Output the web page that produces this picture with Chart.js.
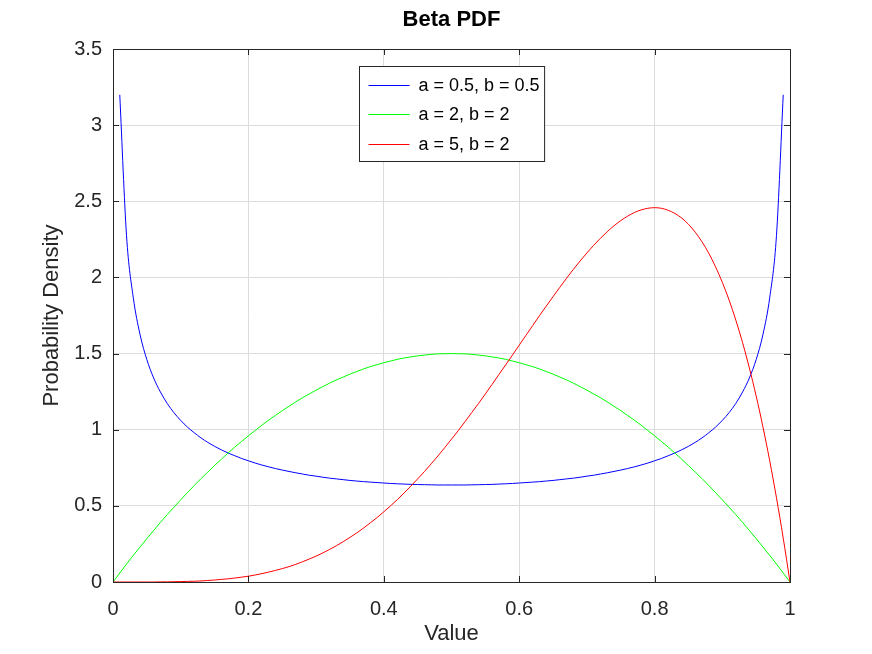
<!DOCTYPE html>
<html>
<head>
<meta charset="utf-8">
<title>Beta PDF</title>
<script src="https://cdn.jsdelivr.net/npm/chart.js@4.4.0/dist/chart.umd.min.js"></script>
<style>
	html, body { margin: 0; padding: 0; background: #fff; }
	#wrap { width: 872px; height: 654px; }
</style>
</head>
<body>
<div id="wrap"><canvas id="chart" width="872" height="654"></canvas></div>
<script>
( function( ) {
	'use strict';

	// x positions 0 .. 1, step 0.01
	var xValues = [
		0.00, 0.01, 0.02, 0.03, 0.04, 0.05, 0.06, 0.07, 0.08, 0.09,
		0.10, 0.11, 0.12, 0.13, 0.14, 0.15, 0.16, 0.17, 0.18, 0.19,
		0.20, 0.21, 0.22, 0.23, 0.24, 0.25, 0.26, 0.27, 0.28, 0.29,
		0.30, 0.31, 0.32, 0.33, 0.34, 0.35, 0.36, 0.37, 0.38, 0.39,
		0.40, 0.41, 0.42, 0.43, 0.44, 0.45, 0.46, 0.47, 0.48, 0.49,
		0.50, 0.51, 0.52, 0.53, 0.54, 0.55, 0.56, 0.57, 0.58, 0.59,
		0.60, 0.61, 0.62, 0.63, 0.64, 0.65, 0.66, 0.67, 0.68, 0.69,
		0.70, 0.71, 0.72, 0.73, 0.74, 0.75, 0.76, 0.77, 0.78, 0.79,
		0.80, 0.81, 0.82, 0.83, 0.84, 0.85, 0.86, 0.87, 0.88, 0.89,
		0.90, 0.91, 0.92, 0.93, 0.94, 0.95, 0.96, 0.97, 0.98, 0.99,
		1.00
	];

	// a = 0.5, b = 0.5 (no value at the two ends)
	var blueValues = [
		null, 3.199, 2.274, 1.866, 1.624, 1.460, 1.340, 1.248, 1.173, 1.112,
		1.061, 1.017, 0.980, 0.946, 0.917, 0.891, 0.868, 0.847, 0.829, 0.811,
		0.796, 0.781, 0.768, 0.756, 0.745, 0.735, 0.726, 0.717, 0.709, 0.701,
		0.695, 0.688, 0.682, 0.677, 0.672, 0.667, 0.663, 0.659, 0.656, 0.653,
		0.650, 0.647, 0.645, 0.643, 0.641, 0.640, 0.639, 0.638, 0.637, 0.637,
		0.637, 0.637, 0.637, 0.638, 0.639, 0.640, 0.641, 0.643, 0.645, 0.647,
		0.650, 0.653, 0.656, 0.659, 0.663, 0.667, 0.672, 0.677, 0.682, 0.688,
		0.695, 0.701, 0.709, 0.717, 0.726, 0.735, 0.745, 0.756, 0.768, 0.781,
		0.796, 0.811, 0.829, 0.847, 0.868, 0.891, 0.917, 0.946, 0.980, 1.017,
		1.061, 1.112, 1.173, 1.248, 1.340, 1.460, 1.624, 1.866, 2.274, 3.199,
		null
	];

	// a = 2, b = 2
	var greenValues = [
		0.000, 0.059, 0.118, 0.175, 0.230, 0.285, 0.338, 0.391, 0.442, 0.491,
		0.540, 0.587, 0.634, 0.679, 0.722, 0.765, 0.806, 0.847, 0.886, 0.923,
		0.960, 0.995, 1.030, 1.063, 1.094, 1.125, 1.154, 1.183, 1.210, 1.235,
		1.260, 1.283, 1.306, 1.327, 1.346, 1.365, 1.382, 1.399, 1.414, 1.427,
		1.440, 1.451, 1.462, 1.471, 1.478, 1.485, 1.490, 1.495, 1.498, 1.499,
		1.500, 1.499, 1.498, 1.495, 1.490, 1.485, 1.478, 1.471, 1.462, 1.451,
		1.440, 1.427, 1.414, 1.399, 1.382, 1.365, 1.346, 1.327, 1.306, 1.283,
		1.260, 1.235, 1.210, 1.183, 1.154, 1.125, 1.094, 1.063, 1.030, 0.995,
		0.960, 0.923, 0.886, 0.847, 0.806, 0.765, 0.722, 0.679, 0.634, 0.587,
		0.540, 0.491, 0.442, 0.391, 0.338, 0.285, 0.230, 0.175, 0.118, 0.059,
		0.000
	];

	// a = 5, b = 2
	var redValues = [
		0.000, 0.000, 0.000, 0.000, 0.000, 0.000, 0.000, 0.001, 0.001, 0.002,
		0.003, 0.004, 0.005, 0.007, 0.010, 0.013, 0.017, 0.021, 0.026, 0.032,
		0.038, 0.046, 0.055, 0.065, 0.076, 0.088, 0.101, 0.116, 0.133, 0.151,
		0.170, 0.191, 0.214, 0.238, 0.265, 0.293, 0.322, 0.354, 0.388, 0.423,
		0.461, 0.500, 0.541, 0.585, 0.630, 0.677, 0.725, 0.776, 0.828, 0.882,
		0.938, 0.994, 1.053, 1.113, 1.173, 1.235, 1.298, 1.362, 1.426, 1.490,
		1.555, 1.620, 1.684, 1.749, 1.812, 1.874, 1.935, 1.995, 2.053, 2.108,
		2.161, 2.211, 2.257, 2.300, 2.339, 2.373, 2.402, 2.426, 2.443, 2.454,
		2.458, 2.454, 2.441, 2.420, 2.390, 2.349, 2.297, 2.234, 2.159, 2.070,
		1.968, 1.852, 1.719, 1.571, 1.405, 1.222, 1.019, 0.797, 0.553, 0.288,
		0.000
	];

	var seriesLabels = [ 'a = 0.5, b = 0.5', 'a = 2, b = 2', 'a = 5, b = 2' ];
	var seriesColors = [ '#0000ff', '#00ff00', '#ff0000' ];
	var seriesValues = [ blueValues, greenValues, redValues ];
	var titleText = 'Beta PDF';

	var FONT = "'Liberation Sans', Arial, sans-serif";
	var INK = '#262626';

	function toPoints( ys ) {
		return xValues.map( function( x, i ) {
			return { x: x, y: ys[ i ] };
		} );
	}

	// 0.5 -> "0.5", 1 -> "1"
	function tickText( v ) {
		return String( Math.round( v * 100 ) / 100 );
	}

	// title over the plot, box round the plot, inward ticks, boxed legend
	var framePlugin = {
		id: 'frame',
		afterDraw: function( chart ) {
			var ctx = chart.ctx;
			var a = chart.chartArea;
			var sx = chart.scales.x;
			var sy = chart.scales.y;
			var tl = 6;

			ctx.save();

			ctx.fillStyle = '#000000';
			ctx.font = 'bold 22px ' + FONT;
			ctx.textAlign = 'center';
			ctx.textBaseline = 'middle';
			ctx.fillText( titleText, ( a.left + a.right ) / 2, 20 );

			ctx.strokeStyle = INK;
			ctx.lineWidth = 1;
			ctx.strokeRect( Math.round( a.left ) + 0.5, Math.round( a.top ) + 0.5,
				Math.round( a.right - a.left ), Math.round( a.bottom - a.top ) );

			ctx.beginPath();
			sx.ticks.forEach( function( t ) {
				var px = Math.round( sx.getPixelForValue( t.value ) ) + 0.5;
				ctx.moveTo( px, a.bottom );
				ctx.lineTo( px, a.bottom - tl );
				ctx.moveTo( px, a.top );
				ctx.lineTo( px, a.top + tl );
			} );
			sy.ticks.forEach( function( t ) {
				var py = Math.round( sy.getPixelForValue( t.value ) ) + 0.5;
				ctx.moveTo( a.left, py );
				ctx.lineTo( a.left + tl, py );
				ctx.moveTo( a.right, py );
				ctx.lineTo( a.right - tl, py );
			} );
			ctx.stroke();

			// legend
			ctx.font = '18px ' + FONT;
			var maxW = 0;
			seriesLabels.forEach( function( s ) {
				maxW = Math.max( maxW, ctx.measureText( s ).width );
			} );
			var padL = 9, lineLen = 41, gap = 9, padR = 5, rowH = 29.5, padV = 18;
			var w = padL + lineLen + gap + maxW + padR;
			var h = padV * 2 + rowH * ( seriesLabels.length - 1 );
			var bx = Math.round( ( a.left + a.right ) / 2 - w / 2 ) + 0.5;
			var by = Math.round( a.top + 17 ) + 0.5;
			ctx.fillStyle = '#ffffff';
			ctx.fillRect( bx, by, w, h );
			ctx.strokeStyle = INK;
			ctx.strokeRect( bx, by, w, h );
			ctx.textBaseline = 'middle';
			ctx.textAlign = 'left';
			seriesLabels.forEach( function( s, i ) {
				var cy = Math.round( by + padV + rowH * i ) + 0.5;
				ctx.strokeStyle = seriesColors[ i ];
				ctx.beginPath();
				ctx.moveTo( bx + padL, cy );
				ctx.lineTo( bx + padL + lineLen, cy );
				ctx.stroke();
				ctx.fillStyle = '#000000';
				ctx.fillText( s, bx + padL + lineLen + gap, cy + 1 );
			} );
			ctx.restore();
		}
	};

	var datasets = seriesValues.map( function( ys, i ) {
		return {
			label: seriesLabels[ i ],
			data: toPoints( ys ),
			borderColor: seriesColors[ i ],
			backgroundColor: seriesColors[ i ],
			borderWidth: 1,
			pointRadius: 0,
			cubicInterpolationMode: 'monotone',
			fill: false,
			spanGaps: false,
			order: seriesValues.length - i
		};
	} );

	new Chart( document.getElementById( 'chart' ), {
		type: 'line',
		data: { datasets: datasets },
		options: {
			responsive: false,
			animation: false,
			devicePixelRatio: 1,
			layout: { padding: { left: 0, right: 82, top: 49, bottom: 0 } },
			plugins: {
				legend: { display: false },
				tooltip: { enabled: false },
				title: { display: false }
			},
			scales: {
				x: {
					type: 'linear',
					min: 0,
					max: 1,
					border: { display: false },
					grid: { color: '#dcdcdc', lineWidth: 1, drawTicks: false },
					ticks: {
						stepSize: 0.2,
						color: INK,
						padding: 15,
						maxRotation: 0,
						font: { family: FONT, size: 20 },
						callback: tickText
					},
					title: {
						display: true,
						text: 'Value',
						color: INK,
						font: { family: FONT, size: 22 },
						padding: { top: 0, bottom: 7 }
					},
					afterFit: function( scale ) { scale.height = 72; }
				},
				y: {
					min: 0,
					max: 3.5,
					border: { display: false },
					grid: { color: '#dcdcdc', lineWidth: 1, drawTicks: false },
					ticks: {
						stepSize: 0.5,
						color: INK,
						padding: 11,
						font: { family: FONT, size: 20 },
						callback: tickText
					},
					title: {
						display: true,
						text: 'Probability Density',
						color: INK,
						font: { family: FONT, size: 22 },
						padding: { top: 38.5, bottom: 0 }
					},
					afterFit: function( scale ) { scale.width = 113; }
				}
			}
		},
		plugins: [ framePlugin ]
	} );
} )( );
</script>
</body>
</html>
